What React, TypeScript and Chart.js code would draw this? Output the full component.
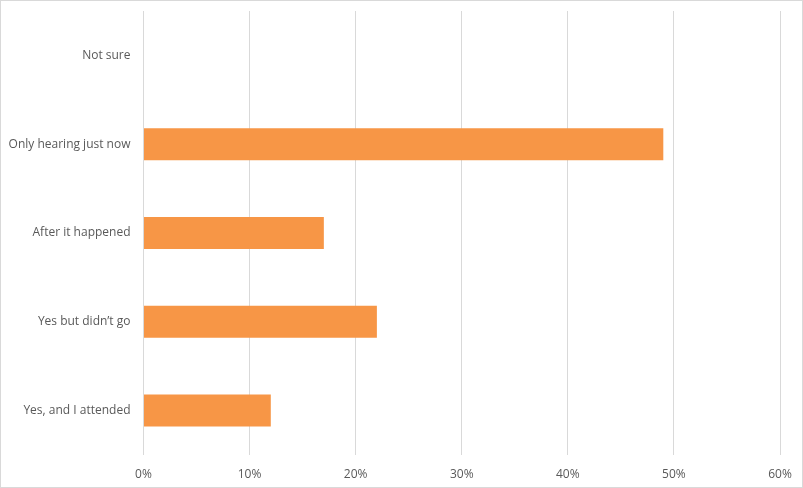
import React, { useEffect, useRef } from "react";
import { Chart, registerables } from "chart.js";

Chart.register(...registerables);

const categories = [
  "Not sure",
  "Only hearing just now",
  "After it happened",
  "Yes but didn\u2019t go",
  "Yes, and I attended",
];
const values = [0, 49, 17, 22, 12];
const xTicks = [0, 10, 20, 30, 40, 50, 60];

export default function App() {
  const ref = useRef<HTMLCanvasElement | null>(null);
  useEffect(() => {
    if (!ref.current) return;
    const chart = new Chart(ref.current, {
      type: "bar",
      data: {
        labels: categories,
        datasets: [
          {
            data: values,
            backgroundColor: "#F79646",
            borderWidth: 0,
            barPercentage: 0.6,
            categoryPercentage: 0.6,
          },
        ],
      },
      options: {
        indexAxis: "y",
        animation: false,
        responsive: true,
        maintainAspectRatio: false,
        layout: { padding: { left: 0, right: 23, top: 11, bottom: 0 } },
        plugins: { legend: { display: false }, tooltip: { enabled: false } },
        scales: {
          x: {
            min: xTicks[0],
            max: xTicks[xTicks.length - 1],
            afterBuildTicks: (scale: any) => {
              scale.ticks = xTicks.map((v) => ({ value: v }));
            },
            afterFit: (scale: any) => {
              scale.height = 33;
              scale.paddingLeft = 0;
              scale.paddingRight = 0;
            },
            grid: { color: "#d9d9d9", lineWidth: 1, drawTicks: false },
            border: { display: false },
            ticks: {
              color: "#595959",
              font: { family: "Open Sans", size: 12 },
              padding: 12,
              callback: (v: any) => v + "%",
            },
          },
          y: {
            afterFit: (scale: any) => {
              scale.width = 143.5;
              scale.paddingTop = 0;
              scale.paddingBottom = 0;
            },
            grid: { display: false, drawTicks: false },
            border: { display: false },
            ticks: {
              color: "#595959",
              font: { family: "Open Sans", size: 12 },
              padding: 13,
            },
          },
        },
      },
    });
    return () => chart.destroy();
  }, []);
  return (
    <div
      style={{
        position: "fixed",
        left: 0,
        top: 0,
        width: 803,
        height: 488,
        boxSizing: "border-box",
        border: "1px solid #d9d9d9",
        background: "#fff",
      }}
    >
      <div style={{ position: "absolute", left: -1, top: -1, width: 803, height: 488 }}>
        <canvas ref={ref} />
      </div>
    </div>
  );
}
